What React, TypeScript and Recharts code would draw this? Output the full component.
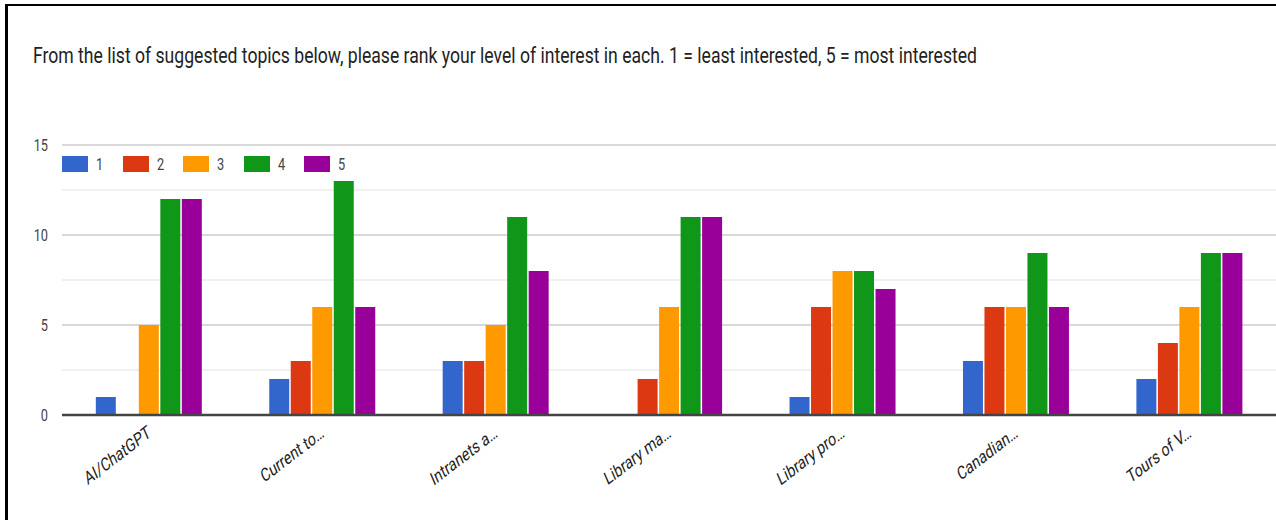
import React from "react";
import {
  Bar,
  BarChart,
  CartesianGrid,
  Legend,
  ReferenceLine,
  XAxis,
  YAxis,
} from "recharts";

const title =
  "From the list of suggested topics below, please rank your level of interest in each. 1 = least interested, 5 = most interested";

const topics = [
  "AI/ChatGPT",
  "Current to\u2026",
  "Intranets a\u2026",
  "Library ma\u2026",
  "Library pro\u2026",
  "Canadian\u2026",
  "Tours of V\u2026",
];

const series = ["1", "2", "3", "4", "5"];
const colors = ["#3366cc", "#dc3912", "#ff9900", "#109618", "#990099"];

const rank1 = [1, 2, 3, 0, 1, 3, 2];
const rank2 = [0, 3, 3, 2, 6, 6, 4];
const rank3 = [5, 6, 5, 6, 8, 6, 6];
const rank4 = [12, 13, 11, 11, 8, 9, 9];
const rank5 = [12, 6, 8, 11, 7, 6, 9];

const yTicks = [0, 5, 10, 15];
const minorTicks = [2.5, 7.5, 12.5];

const ranks = [rank1, rank2, rank3, rank4, rank5];
const data = topics.map((name, i) => {
  const row: Record<string, string | number> = { name };
  series.forEach((s, k) => {
    row[s] = ranks[k][i];
  });
  return row;
});

const FONT = "Roboto, Arial, sans-serif";

function XTick(props: any) {
  const { x, y, payload } = props;
  return (
    <text
      transform={`translate(${x + 3},${y + 13}) scale(0.75,1) rotate(-30)`}
      textAnchor="end"
      fontSize={18.5}
      fontFamily={FONT}
      fill="#222"
    >
      {payload.value}
    </text>
  );
}

function YTick(props: any) {
  const { x, y, payload } = props;
  return (
    <text
      transform={`translate(${x},${y + 6}) scale(0.75,1)`}
      textAnchor="end"
      fontSize={17}
      fontFamily={FONT}
      fill="#444"
    >
      {payload.value}
    </text>
  );
}

function LegendBox(props: any) {
  const items = props.payload || [];
  return (
    <div style={{ position: "relative", height: 18 }}>
      {items.map((it: any, i: number) => (
        <div
          key={it.value}
          style={{
            position: "absolute",
            left: i * 60.6,
            top: 0,
            display: "flex",
            alignItems: "center",
          }}
        >
          <div style={{ width: 26, height: 16, background: it.color }} />
          <span
            style={{
              marginLeft: 8,
              fontFamily: FONT,
              fontSize: 17,
              color: "#444",
              display: "inline-block",
              transform: "scale(0.75,1)",
              transformOrigin: "left center",
              lineHeight: "16px",
            }}
          >
            {it.value}
          </span>
        </div>
      ))}
    </div>
  );
}

export default function App() {
  return (
    <div
      style={{
        position: "absolute",
        left: 0,
        top: 0,
        width: 1276,
        height: 520,
        background: "#fff",
        overflow: "hidden",
      }}
    >
      <svg
        width={1276}
        height={520}
        style={{ position: "absolute", left: 0, top: 0 }}
      >
        <text
          x={33}
          y={63}
          fontSize={22}
          fontFamily={FONT}
          fill="#222"
          textLength={944}
          lengthAdjust="spacingAndGlyphs"
        >
          {title}
        </text>
      </svg>
      <div style={{ position: "absolute", left: 0, top: 0 }}>
        <BarChart
          width={1276}
          height={520}
          data={data}
          margin={{ top: 145, right: 0, bottom: 45, left: 0 }}
          barCategoryGap="19.5%"
          barGap={1.5}
        >
          <CartesianGrid
            vertical={false}
            horizontalValues={minorTicks}
            stroke="#ebebeb"
            strokeWidth={1.5}
          />
          <CartesianGrid vertical={false} stroke="#cccccc" strokeWidth={1.5} />
          <XAxis
            dataKey="name"
            interval={0}
            axisLine={false}
            tickLine={false}
            height={60}
            tick={<XTick />}
          />
          <YAxis
            width={62}
            domain={[0, 15]}
            ticks={yTicks}
            axisLine={false}
            tickLine={false}
            tickMargin={8}
            tick={<YTick />}
          />
          <Legend
            layout="horizontal"
            verticalAlign="middle"
            align="center"
            wrapperStyle={{ top: 156, left: 62, width: 400, height: 18 }}
            content={<LegendBox />}
          />
          {series.map((s, k) => (
            <Bar
              key={s}
              dataKey={s}
              name={s}
              fill={colors[k]}
              isAnimationActive={false}
            />
          ))}
          <ReferenceLine y={0} stroke="#444" strokeWidth={2.5} />
        </BarChart>
      </div>
      <div
        style={{
          position: "absolute",
          left: 5,
          top: 4,
          width: 1300,
          height: 600,
          borderTop: "2px solid #000",
          borderLeft: "3px solid #000",
          pointerEvents: "none",
        }}
      />
    </div>
  );
}
